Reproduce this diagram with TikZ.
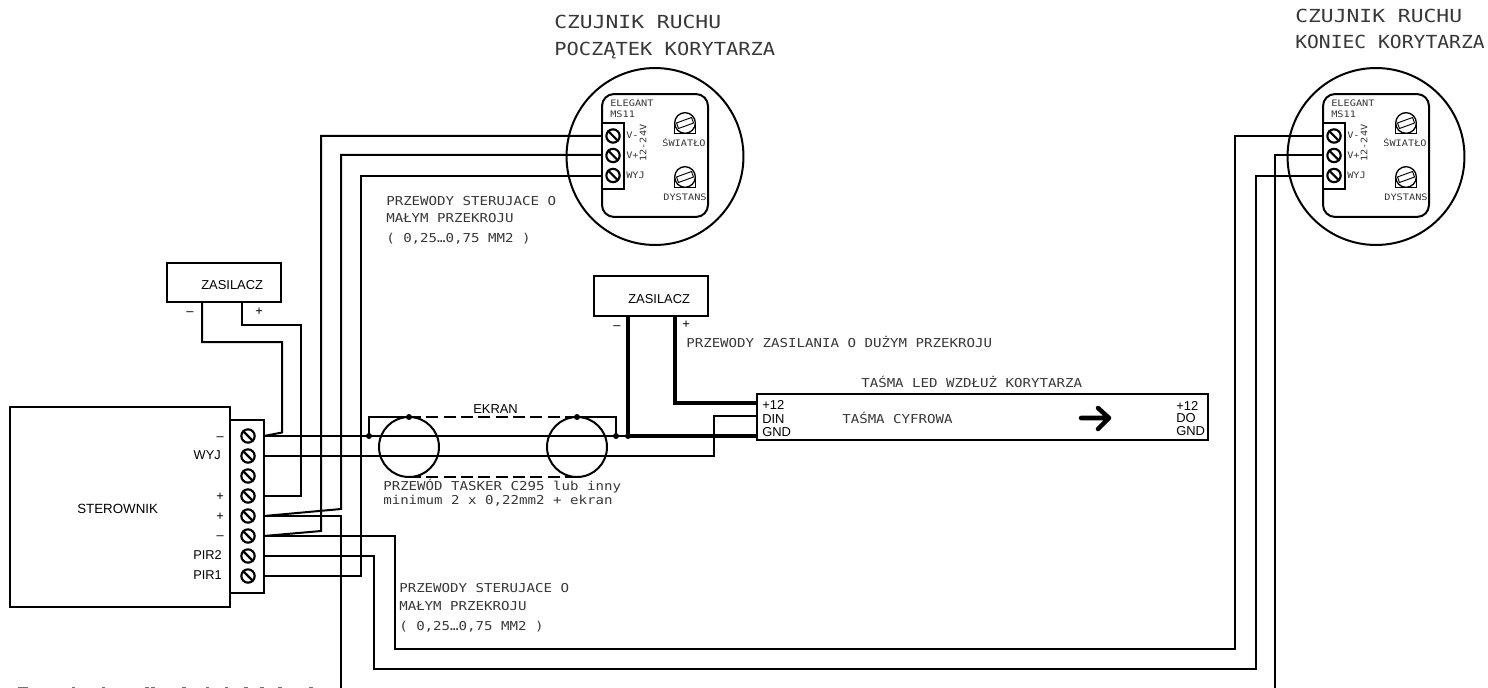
\documentclass[tikz,border=0pt]{standalone}
\usepackage{fontspec}
\usepackage{graphicx}
\setmainfont{Liberation Sans}
\newfontfamily\cadf[FakeStretch=1.15]{DejaVu Sans Mono}
\newcommand{\cadL}{\cadf\fontsize{13.5pt}{16pt}\selectfont}
\newcommand{\cadM}{\cadf\fontsize{9.2pt}{11pt}\selectfont}
\newcommand{\cadS}{\cadf\fontsize{6.7pt}{8pt}\selectfont}
\usetikzlibrary{calc}
\tikzset{
  wire/.style={line width=1.5pt,line join=miter},
  fat/.style={line width=3pt,line join=miter},
  boxs/.style={draw,line width=1.5pt,fill=white},
  ring/.style={circle,draw,line width=1.5pt,inner sep=0pt},
  bolt/.style={circle,draw,line width=1.6pt,inner sep=0pt,minimum size=10pt},
  dot/.style={circle,fill,inner sep=0pt,minimum size=4.5pt},
  sans/.style={anchor=base west,inner sep=0pt,font=\fontsize{9.7pt}{11pt}\selectfont},
  sansr/.style={anchor=base east,inner sep=0pt,font=\fontsize{9.6pt}{11pt}\selectfont},
  cadl/.style={anchor=base west,inner sep=0pt,text=black!78,font=\cadL},
  cadm/.style={anchor=base west,inner sep=0pt,text=black!78,font=\cadM},
  cads/.style={anchor=base west,inner sep=0pt,text=black!78,font=\cadS},
  cadc/.style={anchor=base,inner sep=0pt,text=black!78,font=\cadS},
  frag/.style={fill=black!55},
}
\newcommand{\boltat}[3]{%
  \node[bolt] (#1) at (#2,#3) {};
  \draw[line width=1.6pt] (#1.135) -- (#1.-45);
}
\newcommand{\knobat}[3]{%
  \draw[line width=1pt] (#2-10.5,#3) -- (#2-10.5,#3+10.5) -- (#2+10.5,#3+10.5) -- (#2+10.5,#3);
  \node[ring,fill=white,line width=1pt,minimum size=15.5pt] (#1) at (#2,#3) {};
  \node[draw,line width=.7pt,rotate=20,minimum width=12pt,minimum height=4.4pt,inner sep=0pt] (#1s) at (#2,#3) {};
}
\newcommand{\sensor}[2]{%
  \node[ring,minimum size=132.7pt] (#1c) at (#2+655,156.5) {};
  \node[boxs,fill=none,rounded corners=9pt,minimum width=79.5pt,minimum height=92.2pt,inner sep=0pt] (#1b) at (#2+655,155.5) {};
  \node[boxs,fill=white,minimum width=16.5pt,minimum height=49.5pt,inner sep=0pt] (#1t) at (#2+613,156) {};
  \boltat{#1bv}{#2+613}{136}
  \boltat{#1bp}{#2+613}{155.5}
  \boltat{#1bw}{#2+613}{175.5}
  \coordinate (#1vm) at (#2+602,136);
  \coordinate (#1vp) at (#2+602,155);
  \coordinate (#1wy) at (#2+602,176);
  \knobat{#1ka}{#2+685}{123}
  \knobat{#1kb}{#2+685}{177}
  \node[cads] (#1e) at (#2+610,107) {ELEGANT};
  \node[cads] (#1m) at (#2+610,117.5) {MS11};
  \node[cads] (#1u) at (#2+626,139) {V-};
  \node[cads] (#1p) at (#2+626,158.5) {V+};
  \node[cads] (#1j) at (#2+626,179) {WYJ};
  \node[cads,anchor=center,rotate=90] (#1r) at (#2+643,143) {12-24V};
  \node[cadc] (#1sw) at (#2+684,147) {ŚWIATŁO};
  \node[cadc] (#1dy) at (#2+685,200) {DYSTANS};
}
\begin{document}
\begin{tikzpicture}[x=0.75pt,y=-0.75pt]
\useasboundingbox (0,0) rectangle (1488,688);
\fill[white] (0,0) rectangle (1488,688);

% sterownik and terminals
\node[boxs,minimum width=165pt,minimum height=150pt,inner sep=0pt] (ster) at (120,507) {};
\node[boxs,minimum width=25.5pt,minimum height=129.7pt,inner sep=0pt] (term) at (247,506.5) {};
\boltat{b1}{248}{436}
\boltat{b2}{248}{456}
\boltat{b3}{248}{476}
\boltat{b4}{248}{496}
\boltat{b5}{248}{516}
\boltat{b6}{248}{536}
\boltat{b7}{248}{556}
\boltat{b8}{248}{576}
\foreach \n/\y in {1/436,2/456,4/496,5/516,6/536,7/556,8/576}{\coordinate (p\n) at (264,\y);}
\node[sans,font=\fontsize{10pt}{12pt}\selectfont] (lster) at (77,513) {STEROWNIK};
\node[sansr] (l1) at (224,440) {–};
\node[sansr] (l2) at (221,459) {WYJ};
\node[sansr] (l4) at (224,500) {+};
\node[sansr] (l5) at (224,520) {+};
\node[sansr] (l6) at (224,539) {–};
\node[sansr] (l7) at (222,559) {PIR2};
\node[sansr] (l8) at (222,579) {PIR1};

% power supplies
\node[boxs,minimum width=85.5pt,minimum height=29.3pt,inner sep=0pt] (zas1) at (224,282.5) {};
\node[sans] (zas1t) at (201,289) {ZASILACZ};
\node[sans] (zas1m) at (186,315) {–};
\node[sans] (zas1p) at (255,315) {+};
\node[boxs,minimum width=85.5pt,minimum height=30pt,inner sep=0pt] (zas2) at (651,296) {};
\node[sans] (zas2t) at (628,303) {ZASILACZ};
\node[sans] (zas2m) at (613,329) {–};
\node[sans] (zas2p) at (682,328) {+};

% LED strip
\node[boxs,minimum width=338.5pt,minimum height=34pt,inner sep=0pt] (led) at (982.5,417) {};
\coordinate (ledp) at (757,403);
\coordinate (ledd) at (757,416);
\coordinate (ledg) at (757,436);
\node[sans] (t1) at (762,409) {+12};
\node[sans] (t2) at (762,423) {DIN};
\node[sans] (t3) at (762,436) {GND};
\node[sans] (t4) at (1176,410) {+12};
\node[sans] (t5) at (1176,422.5) {DO};
\node[sans] (t6) at (1176,435) {GND};
\coordinate (ara) at (1081,418);
\coordinate (arb) at (1109,418);
\draw[line width=3.4pt,line cap=round,line join=round] (ara) -- (arb) (1098,408) -- (arb) -- (1098,429);

% sensors
\sensor{sa}{0}
\sensor{sb}{721}

% wires: supply 1
\draw[wire] (zas1.south -| 202,0) -- (202,342) -- (282,342) -- (282,432.5) -- (p1);
\draw[wire] (zas1.south -| 242,0) -- (242,325) -- (301,325) -- (301,496) -- (p4);
% wires: first sensor
\draw[wire] (p6) -- (321,531) -- (321,136) -- (savm);
\draw[wire] (p5) -- (341,509) -- (341,155) -- (savp);
\draw[wire] (p8) -- (361,576) -- (361,176) -- (sawy);
% wires: second sensor
\draw[wire] (p6) -- (394.5,536) -- (394.5,649) -- (1235,649) -- (1235,136) -- (sbvm);
\draw[wire] (p7) -- (374,556) -- (374,669) -- (1255.5,669) -- (1255.5,176) -- (sbwy);
\draw[wire] (p5) -- (341,516) -- (341,688);
\draw[wire] (1275,688) -- (1275,155) -- (sbvp);
% signal lines
\coordinate (d1) at (369,436);
\coordinate (d2) at (616,436);
\coordinate (d3) at (628,436);
\draw[wire] (p1) -- (d3);
\draw[wire] (p2) -- (714,456) -- (714,416) -- (ledd);
\draw[fat] (zas2.south -| 628,0) -- (d3) -- (ledg);
\draw[fat] (zas2.south -| 675,0) -- (675,403) -- (ledp);
% cable
\node[ring,minimum size=45pt] (ca) at (409,447) {};
\node[ring,minimum size=45pt] (cb) at (577,447) {};
\coordinate (ct) at (409,417);
\coordinate (dt) at (577,417);
\draw[wire] (d1) -- (369,417) -- (ct);
\draw[wire] (dt) -- (616,417) -- (d2);
\draw[wire,dashed,dash pattern=on 9pt off 4pt] (ct) -- (dt);
\draw[wire,dashed,dash pattern=on 9pt off 4pt] (409,476.5) -- (577,476.5);
\node[dot] (dd1) at (d1) {};
\node[dot] (dd2) at (d2) {};
\node[dot] (dd3) at (d3) {};
\node[dot] (dd4) at (ct) {};
\node[dot] (dd5) at (dt) {};
\node[sans] (ekr) at (473,413) {EKRAN};

% CAD labels
\node[cadl] (c1) at (554,29) {\scalebox{1.03}[1]{CZUJNIK RUCHU}};
\node[cadl] (c2) at (554,56) {\scalebox{0.985}[1]{POCZĄTEK KORYTARZA}};
\node[cadl] (c3) at (1295,23) {\scalebox{1.03}[1]{CZUJNIK RUCHU}};
\node[cadl] (c4) at (1295,49) {\scalebox{0.95}[1]{KONIEC KORYTARZA}};
\node[cadm] (c5) at (386,205) {PRZEWODY STERUJACE O};
\node[cadm] (c6) at (386,223) {MAŁYM PRZEKROJU};
\node[cadm] (c7) at (386,243) {( 0,25…0,75 MM2 )};
\node[cadm] (c8) at (399,592) {PRZEWODY STERUJACE O};
\node[cadm] (c9) at (399,610) {MAŁYM PRZEKROJU};
\node[cadm] (c10) at (399,630) {( 0,25…0,75 MM2 )};
\node[cadm] (c11) at (383,490) {PRZEWÓD TASKER C295 lub inny};
\node[cadm] (c12) at (383,504) {minimum 2 x 0,22mm2 + ekran};
\node[cadm] (c13) at (686,347) {PRZEWODY ZASILANIA O DUŻYM PRZEKROJU};
\node[cadm] (c14) at (861,387) {TAŚMA LED WZDŁUŻ KORYTARZA};
\node[cadm] (c15) at (842,423) {TAŚMA CYFROWA};

% tops of a line cut off by the lower edge
\foreach \a/\b in {18/28,72/75,102/105,145/149,151/155,182/186,206/209,225/228,244/248,260/264,278/282,309/313}
  {\fill[frag] (\a,686.5) rectangle (\b,688);}
\end{tikzpicture}
\end{document}
